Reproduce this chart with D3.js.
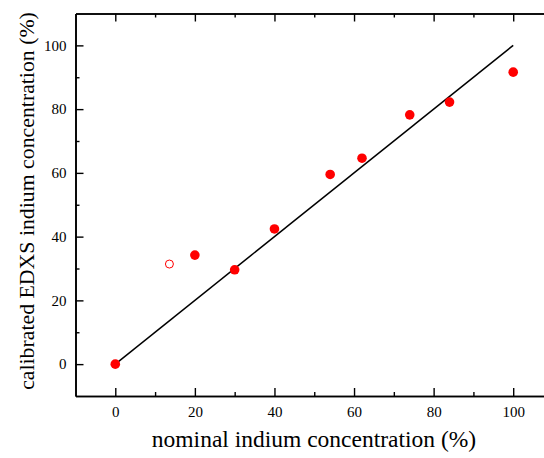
<!DOCTYPE html>
<html lang="en">
<head>
<meta charset="utf-8">
<title>EDXS vs nominal indium</title>
<script src="https://cdn.jsdelivr.net/npm/d3@7/dist/d3.min.js"></script>
<style>
  body { margin: 0; background: #fff; }
  text { font-family: "Liberation Serif", "Times New Roman", serif; fill: #000; }
</style>
</head>
<body>
<script>
// data
var nominal    = [0, 20, 30, 40, 54, 62, 74, 84, 100];
var calibrated = [0, 34.2, 29.6, 42.4, 59.5, 64.6, 78.2, 82.2, 91.6];
var outlierX = [13.6];
var outlierY = [31.4];
var fitX = [0, 100];
var fitY = [0, 100];
var majorTicks = [0, 20, 40, 60, 80, 100];
var minorTicks = [10, 30, 50, 70, 90];

var W = 544, H = 458;
var plotLeft = 75.5, plotRight = 553, plotTop = 13.5, plotBottom = 396;

var svg = d3.select("body").append("svg")
  .attr("width", W).attr("height", H);

var x = d3.scaleLinear().domain([-10, 110]).range([plotLeft, plotRight]);
var y = d3.scaleLinear().domain([-10, 110]).range([plotBottom, plotTop]);

function styleAxis(g) {
  g.selectAll("path.domain").attr("stroke", "#000").attr("stroke-width", 1.6);
  g.selectAll(".tick line").attr("stroke", "#000").attr("stroke-width", 1.4);
  g.selectAll(".tick text").attr("font-size", 15)
    .style("font-family", "'Liberation Serif', serif").attr("fill", "#000");
}

// bottom
svg.append("g").attr("transform", "translate(0," + plotBottom + ")")
  .call(d3.axisBottom(x).tickValues(majorTicks).tickSize(-8).tickSizeOuter(0).tickPadding(10))
  .call(styleAxis);
svg.append("g").attr("transform", "translate(0," + plotBottom + ")")
  .call(d3.axisBottom(x).tickValues(minorTicks).tickSize(-4).tickSizeOuter(0).tickFormat(""))
  .call(styleAxis);
// top
svg.append("g").attr("transform", "translate(0," + plotTop + ")")
  .call(d3.axisTop(x).tickValues(majorTicks).tickSize(-8).tickSizeOuter(0).tickFormat(""))
  .call(styleAxis);
svg.append("g").attr("transform", "translate(0," + plotTop + ")")
  .call(d3.axisTop(x).tickValues(minorTicks).tickSize(-4).tickSizeOuter(0).tickFormat(""))
  .call(styleAxis);
// left
svg.append("g").attr("transform", "translate(" + plotLeft + ",0)")
  .call(d3.axisLeft(y).tickValues(majorTicks).tickSize(-8).tickSizeOuter(0).tickPadding(9))
  .call(styleAxis);
svg.append("g").attr("transform", "translate(" + plotLeft + ",0)")
  .call(d3.axisLeft(y).tickValues(minorTicks).tickSize(-4).tickSizeOuter(0).tickFormat(""))
  .call(styleAxis);
// right
svg.append("g").attr("transform", "translate(" + plotRight + ",0)")
  .call(d3.axisRight(y).tickValues(majorTicks).tickSize(-8).tickSizeOuter(0).tickFormat(""))
  .call(styleAxis);

// fit line
var line = d3.line().x(function (d) { return x(d[0]); }).y(function (d) { return y(d[1]); });
svg.append("path")
  .datum(d3.zip(fitX, fitY))
  .attr("d", line)
  .attr("fill", "none")
  .attr("stroke", "#000")
  .attr("stroke-width", 1.5);

// points
svg.selectAll("circle.pt")
  .data(d3.zip(nominal, calibrated))
  .enter().append("circle")
  .attr("class", "pt")
  .attr("cx", function (d) { return x(d[0]); })
  .attr("cy", function (d) { return y(d[1]); })
  .attr("r", 4.8)
  .attr("fill", "#ff0000");

svg.selectAll("circle.out")
  .data(d3.zip(outlierX, outlierY))
  .enter().append("circle")
  .attr("class", "out")
  .attr("cx", function (d) { return x(d[0]); })
  .attr("cy", function (d) { return y(d[1]); })
  .attr("r", 4)
  .attr("fill", "none")
  .attr("stroke", "#ff0000")
  .attr("stroke-width", 1);

// axis titles
svg.append("text")
  .attr("x", 314).attr("y", 447)
  .attr("text-anchor", "middle")
  .attr("font-size", 23.5)
  .text("nominal indium concentration (%)");

svg.append("text")
  .attr("transform", "translate(34,201) rotate(-90)")
  .attr("text-anchor", "middle")
  .attr("font-size", 21.8)
  .text("calibrated EDXS indium concentration (%)");
</script>
</body>
</html>
